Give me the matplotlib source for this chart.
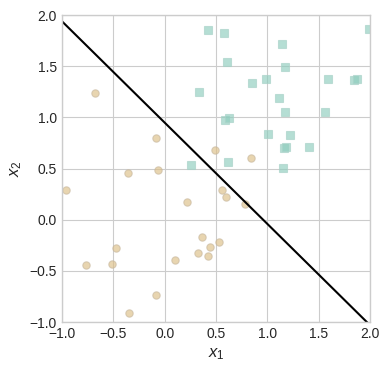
"""Linearly separable two-class scatter with a separating line."""

import matplotlib
matplotlib.use("Agg")
import matplotlib.pyplot as plt
import numpy as np


# class 0 (circles)
circle_x1 = [-0.682, -0.088, 0.493, -0.068, -0.964, -0.357, 0.217, 0.555, 0.594,
             0.785, 0.837, 0.363, 0.526, 0.441, 0.327, 0.425, 0.100, -0.477,
             -0.510, -0.766, -0.088, -0.348]
circle_x2 = [1.24, 0.80, 0.68, 0.488, 0.29, 0.453, 0.175, 0.296, 0.218,
             0.159, 0.605, -0.17, -0.216, -0.268, -0.323, -0.349, -0.388, -0.271,
             -0.431, -0.444, -0.737, -0.906]

# class 1 (squares)
square_x1 = [0.419, 0.337, 0.259, 0.574, 1.989, 1.145, 0.610, 1.174, 0.853, 0.990,
             1.590, 1.845, 1.875, 1.116, 1.174, 1.560, 0.590, 0.629, 1.009, 1.220,
             1.160, 1.182, 1.402, 0.619, 1.155]
square_x2 = [1.85, 1.247, 0.54, 1.824, 1.863, 1.716, 1.538, 1.489, 1.335, 1.377,
             1.374, 1.362, 1.374, 1.19, 1.05, 1.05, 0.971, 0.99, 0.834, 0.83,
             0.697, 0.709, 0.707, 0.56, 0.504]

# decision boundary x2 = intercept + slope * x1
line_slope = -0.99
line_intercept = 0.95


def main():
    plt.style.use("seaborn-v0_8-whitegrid")
    plt.rcParams["font.family"] = ["Liberation Sans", "DejaVu Sans"]
    plt.rcParams["mathtext.fontset"] = "custom"
    plt.rcParams["mathtext.it"] = "Liberation Sans:italic"
    plt.rcParams["mathtext.rm"] = "Liberation Sans"

    fig, ax = plt.subplots(figsize=(3.92, 3.69), dpi=100)
    fig.subplots_adjust(left=0.158, right=0.944, top=0.959, bottom=0.127)

    ax.scatter(circle_x1, circle_x2, marker="o", s=28, color="#DDBF86",
               alpha=0.65, edgecolor="#C8B89E", linewidth=0.8)
    ax.scatter(square_x1, square_x2, marker="s", s=28, color="#8ECDBD",
               alpha=0.65, edgecolor="#A8D2C8", linewidth=0.8)

    xs = np.array([-1.0, 2.0])
    ax.plot(xs, line_intercept + line_slope * xs, color="black", linewidth=1.5)

    ax.set_xlim(-1, 2)
    ax.set_ylim(-1, 2)
    ax.set_xticks(np.arange(-1.0, 2.01, 0.5))
    ax.set_yticks(np.arange(-1.0, 2.01, 0.5))
    ax.set_xlabel("$x_1$", fontsize=12)
    ax.set_ylabel("$x_2$", fontsize=12)
    for spine in ax.spines.values():
        spine.set_visible(True)
        spine.set_color("#cccccc")

    fig.savefig("out.png", dpi=100)
    plt.close(fig)


if __name__ == "__main__":
    main()
